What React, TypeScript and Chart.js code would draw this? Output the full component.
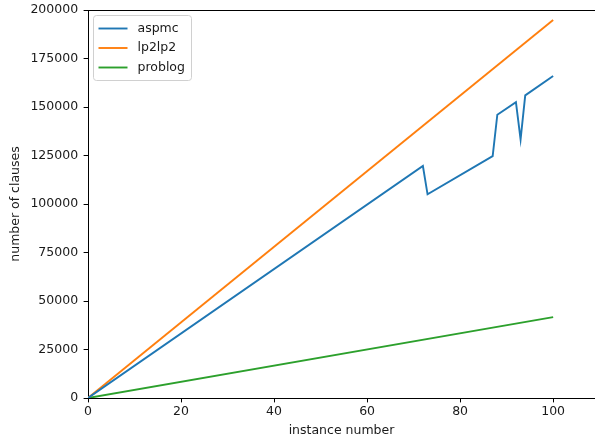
import React, { useEffect, useRef } from "react";
import { Chart, registerables } from "chart.js";

Chart.register(...registerables);

const aspmcX = [0, 72, 73, 87, 88, 92, 93, 94, 100];
const aspmcY = [0, 119600, 105000, 124700, 146000, 152500, 133300, 156000, 166000];
const lp2lp2X = [0, 100];
const lp2lp2Y = [0, 194800];
const problogX = [0, 100];
const problogY = [0, 41700];

const seriesNames = ["aspmc", "lp2lp2", "problog"];
const seriesColors = ["#1f77b4", "#ff7f0e", "#2ca02c"];
const xTicks = [0, 20, 40, 60, 80, 100];
const yTicks = [0, 25000, 50000, 75000, 100000, 125000, 150000, 175000, 200000];

const FONT = "'DejaVu Sans', sans-serif";
const FS = 12.5;
const TXT = "#1a1a1a";

const toPts = (xs: number[], ys: number[]) => xs.map((x, i) => ({ x, y: ys[i] }));

const framePlugin = {
  id: "frame",
  afterDraw(chart: any) {
    const { ctx, chartArea } = chart;
    ctx.save();
    // top spine
    ctx.strokeStyle = "#000";
    ctx.lineWidth = 1;
    ctx.beginPath();
    ctx.moveTo(chartArea.left, chartArea.top + 0.5);
    ctx.lineTo(chartArea.right, chartArea.top + 0.5);
    ctx.stroke();
    // legend
    const lx = chartArea.left + 5.5;
    const ly = chartArea.top + 5.5;
    const lw = 98;
    const lh = 65;
    const r = 3;
    ctx.beginPath();
    ctx.moveTo(lx + r, ly);
    ctx.lineTo(lx + lw - r, ly);
    ctx.arcTo(lx + lw, ly, lx + lw, ly + r, r);
    ctx.lineTo(lx + lw, ly + lh - r);
    ctx.arcTo(lx + lw, ly + lh, lx + lw - r, ly + lh, r);
    ctx.lineTo(lx + r, ly + lh);
    ctx.arcTo(lx, ly + lh, lx, ly + lh - r, r);
    ctx.lineTo(lx, ly + r);
    ctx.arcTo(lx, ly, lx + r, ly, r);
    ctx.closePath();
    ctx.fillStyle = "rgba(255,255,255,0.8)";
    ctx.fill();
    ctx.strokeStyle = "#d0d0d0";
    ctx.lineWidth = 1;
    ctx.stroke();
    ctx.font = `${FS}px ${FONT}`;
    ctx.textBaseline = "middle";
    ctx.textAlign = "left";
    chart.data.datasets.forEach((ds: any, i: number) => {
      const y = ly + 13 + i * 19.5;
      ctx.strokeStyle = ds.borderColor;
      ctx.lineWidth = 1.9;
      ctx.beginPath();
      ctx.moveTo(lx + 5, y);
      ctx.lineTo(lx + 34, y);
      ctx.stroke();
      ctx.fillStyle = TXT;
      ctx.fillText(ds.label, lx + 44, y);
    });
    ctx.restore();
  },
};

export default function App() {
  const ref = useRef<HTMLCanvasElement>(null);
  useEffect(() => {
    document.body.style.margin = "0";
    const ctx = ref.current!;
    const chart = new Chart(ctx, {
      type: "line",
      data: {
        datasets: [
          { label: seriesNames[0], data: toPts(aspmcX, aspmcY), borderColor: seriesColors[0] },
          { label: seriesNames[1], data: toPts(lp2lp2X, lp2lp2Y), borderColor: seriesColors[1] },
          { label: seriesNames[2], data: toPts(problogX, problogY), borderColor: seriesColors[2] },
        ].map((d) => ({ ...d, borderWidth: 1.9, pointRadius: 0, fill: false, tension: 0 })),
      },
      options: {
        animation: false,
        responsive: false,
        maintainAspectRatio: false,
        layout: { padding: { top: 10, right: 0, left: 0, bottom: 0 } },
        plugins: { legend: { display: false }, tooltip: { enabled: false } },
        scales: {
          x: {
            type: "linear",
            min: 0,
            max: 109,
            afterBuildTicks: (s: any) => {
              s.ticks = xTicks.map((v) => ({ value: v }));
            },
            afterFit: (s: any) => {
              s.height = 45;
              s.paddingLeft = 0;
              s.paddingRight = 0;
            },
            grid: { display: true, drawOnChartArea: false, drawTicks: true, tickLength: 4.4, color: "#000", lineWidth: 1 },
            border: { display: true, color: "#000", width: 1 },
            ticks: { color: TXT, font: { family: FONT, size: FS }, padding: 1.5, maxRotation: 0 },
            title: { display: true, text: "instance number", color: TXT, font: { family: FONT, size: FS }, padding: { top: 0, bottom: 4.5 } },
          },
          y: {
            type: "linear",
            min: 0,
            max: 200000,
            afterBuildTicks: (s: any) => {
              s.ticks = yTicks.map((v) => ({ value: v }));
            },
            afterFit: (s: any) => {
              s.width = 88;
              s.paddingTop = 0;
              s.paddingBottom = 0;
            },
            grid: { display: true, drawOnChartArea: false, drawTicks: true, tickLength: 4.4, color: "#000", lineWidth: 1 },
            border: { display: true, color: "#000", width: 1 },
            ticks: { color: TXT, font: { family: FONT, size: FS }, padding: 5.5, callback: (v: any) => String(v) },
            title: { display: true, text: "number of clauses", color: TXT, font: { family: FONT, size: FS }, padding: { top: 8.5, bottom: 0 } },
          },
        },
      },
      plugins: [framePlugin],
    });
    return () => chart.destroy();
  }, []);
  return (
    <div style={{ position: "absolute", left: 0, top: 0, width: 595, height: 443 }}>
      <canvas ref={ref} width={595} height={443} style={{ width: 595, height: 443 }} />
    </div>
  );
}
